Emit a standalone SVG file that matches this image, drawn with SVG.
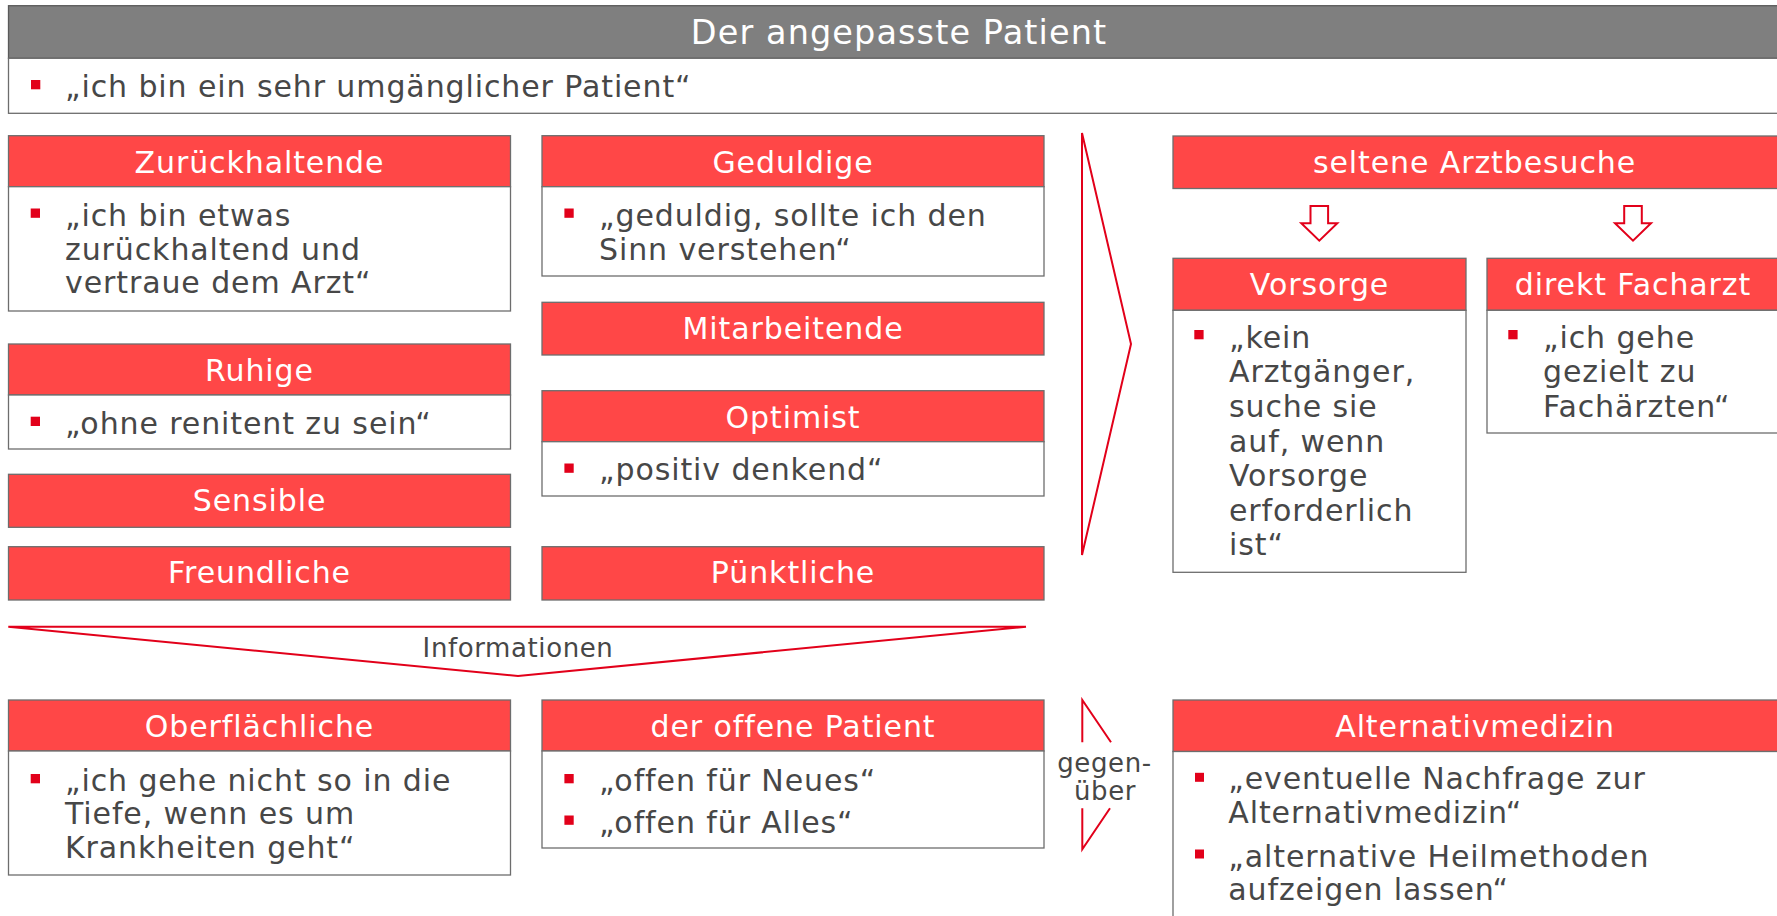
<svg xmlns="http://www.w3.org/2000/svg" width="1777" height="916" viewBox="0 0 1777 916">
<style>
.hdr{fill:#FF4747;stroke:#6d6d6d;stroke-width:1.3}
.bdy{fill:#ffffff;stroke:#6d6d6d;stroke-width:1.3}
.ht{font-family:"DejaVu Sans",sans-serif;font-size:30px;fill:#ffffff;text-anchor:middle;letter-spacing:0.9px}
.bt{font-family:"DejaVu Sans",sans-serif;font-size:30px;fill:#474747;letter-spacing:0.9px}
.sm{font-family:"DejaVu Sans",sans-serif;font-size:26px;fill:#474747;text-anchor:middle;letter-spacing:0.6px}
.bul{fill:#E2001A}
.red{fill:none;stroke:#E2001A;stroke-width:2;stroke-linejoin:miter}
</style>

<g id="title">
<rect x="8.5" y="5.7" width="1790" height="52.6" fill="#7F7F7F" stroke="#5a5a5a" stroke-width="1.3"/>
<text x="899" y="44" font-family="DejaVu Sans,sans-serif" font-size="33.5" fill="#ffffff" text-anchor="middle" letter-spacing="1.1">Der angepasste Patient</text>
<rect class="bdy" x="8.5" y="58.3" width="1790" height="55"/>
<rect class="bul" x="31" y="80" width="9.3" height="9.3"/>
<text class="bt" x="65" y="97">„ich bin ein sehr umgänglicher Patient“</text>
</g>

<g id="zurueckhaltende">
<rect class="hdr" x="8.5" y="135.7" width="502" height="51"/>
<text class="ht" x="259.5" y="172.7">Zurückhaltende</text>
<rect class="bdy" x="8.5" y="186.7" width="502" height="124.3"/>
<rect class="bul" x="30.7" y="208.5" width="9.3" height="9.3"/>
<text class="bt" x="65" y="226">„ich bin etwas</text>
<text class="bt" x="65" y="259.5">zurückhaltend und</text>
<text class="bt" x="65" y="293">vertraue dem Arzt“</text>
</g>

<g id="ruhige">
<rect class="hdr" x="8.5" y="344" width="502" height="51"/>
<text class="ht" x="259.5" y="381">Ruhige</text>
<rect class="bdy" x="8.5" y="395" width="502" height="54"/>
<rect class="bul" x="30.7" y="416.7" width="9.3" height="9.3"/>
<text class="bt" x="65" y="433.5">„ohne renitent zu sein“</text>
</g>

<g id="sensible">
<rect class="hdr" x="8.5" y="474.3" width="502" height="53"/>
<text class="ht" x="259.5" y="511">Sensible</text>
</g>

<g id="freundliche">
<rect class="hdr" x="8.5" y="546.7" width="502" height="53.3"/>
<text class="ht" x="259.5" y="583.3">Freundliche</text>
</g>

<g id="geduldige">
<rect class="hdr" x="542" y="135.7" width="502" height="51"/>
<text class="ht" x="793" y="172.7">Geduldige</text>
<rect class="bdy" x="542" y="186.7" width="502" height="89.3"/>
<rect class="bul" x="564.4" y="208.5" width="9.3" height="9.3"/>
<text class="bt" x="599" y="226">„geduldig, sollte ich den</text>
<text class="bt" x="599" y="259.5">Sinn verstehen“</text>
</g>

<g id="mitarbeitende">
<rect class="hdr" x="542" y="302.3" width="502" height="52.7"/>
<text class="ht" x="793" y="339.3">Mitarbeitende</text>
</g>

<g id="optimist">
<rect class="hdr" x="542" y="390.7" width="502" height="51"/>
<text class="ht" x="793" y="427.7">Optimist</text>
<rect class="bdy" x="542" y="441.7" width="502" height="54.3"/>
<rect class="bul" x="564.4" y="463.5" width="9.3" height="9.3"/>
<text class="bt" x="599" y="479.7">„positiv denkend“</text>
</g>

<g id="puenktliche">
<rect class="hdr" x="542" y="546.7" width="502" height="53.3"/>
<text class="ht" x="793" y="583.3">Pünktliche</text>
</g>

<g id="seltene">
<rect class="hdr" x="1173" y="136" width="610" height="52.5"/>
<text class="ht" x="1474.5" y="173">seltene Arztbesuche</text>
</g>

<g id="vorsorge">
<rect class="hdr" x="1173" y="258.3" width="293" height="52"/>
<text class="ht" x="1319.5" y="295.3">Vorsorge</text>
<rect class="bdy" x="1173" y="310.3" width="293" height="262"/>
<rect class="bul" x="1194.3" y="330" width="9.3" height="9.3"/>
<text class="bt" x="1229" y="347.7">„kein</text>
<text class="bt" x="1229" y="382.3">Arztgänger,</text>
<text class="bt" x="1229" y="416.9">suche sie</text>
<text class="bt" x="1229" y="451.5">auf, wenn</text>
<text class="bt" x="1229" y="486.1">Vorsorge</text>
<text class="bt" x="1229" y="520.7">erforderlich</text>
<text class="bt" x="1229" y="555.3">ist“</text>
</g>

<g id="facharzt">
<rect class="hdr" x="1487" y="258.3" width="300" height="52"/>
<text class="ht" x="1633" y="295.3">direkt Facharzt</text>
<rect class="bdy" x="1487" y="310.3" width="300" height="122.7"/>
<rect class="bul" x="1508.3" y="330" width="9.3" height="9.3"/>
<text class="bt" x="1543" y="347.7">„ich gehe</text>
<text class="bt" x="1543" y="382.3">gezielt zu</text>
<text class="bt" x="1543" y="416.9">Fachärzten“</text>
</g>

<g id="oberflaechliche">
<rect class="hdr" x="8.5" y="700" width="502" height="51"/>
<text class="ht" x="259.5" y="737">Oberflächliche</text>
<rect class="bdy" x="8.5" y="751" width="502" height="124"/>
<rect class="bul" x="30.7" y="774" width="9.3" height="9.3"/>
<text class="bt" x="65" y="790.5">„ich gehe nicht so in die</text>
<text class="bt" x="65" y="824">Tiefe, wenn es um</text>
<text class="bt" x="65" y="857.5">Krankheiten geht“</text>
</g>

<g id="offene">
<rect class="hdr" x="542" y="700" width="502" height="51"/>
<text class="ht" x="793" y="737">der offene Patient</text>
<rect class="bdy" x="542" y="751" width="502" height="97"/>
<rect class="bul" x="564.4" y="774" width="9.3" height="9.3"/>
<text class="bt" x="599" y="790.5">„offen für Neues“</text>
<rect class="bul" x="564.4" y="815.5" width="9.3" height="9.3"/>
<text class="bt" x="599" y="832.5">„offen für Alles“</text>
</g>

<g id="alternativ">
<rect class="hdr" x="1173" y="700" width="610" height="51.5"/>
<text class="ht" x="1475" y="737">Alternativmedizin</text>
<rect class="bdy" x="1173" y="751.5" width="610" height="200"/>
<rect class="bul" x="1195" y="772.8" width="9" height="9"/>
<text class="bt" x="1228.3" y="789.3">„eventuelle Nachfrage zur</text>
<text class="bt" x="1228.3" y="823.3">Alternativmedizin“</text>
<rect class="bul" x="1195" y="849.5" width="9" height="9"/>
<text class="bt" x="1228.3" y="866.7">„alternative Heilmethoden</text>
<text class="bt" x="1228.3" y="900">aufzeigen lassen“</text>
</g>

<g id="connectors">
<polygon class="red" points="1082,133 1131,344 1082,555"/>
<path class="red" d="M1310.5,206 H1328.1 V223.3 H1337.3 L1319.3,240.7 L1301.3,223.3 H1310.5 Z"/>
<path class="red" d="M1624.2,206 H1641.8 V223.3 H1651 L1633,240.7 L1615,223.3 H1624.2 Z"/>
<polygon class="red" points="8.3,626.7 1026,626.7 518,676"/>
<text class="sm" x="518" y="656.7">Informationen</text>
<polyline class="red" points="1111,742.3 1082.3,700 1082.3,742.3"/>
<polyline class="red" points="1082.3,808.3 1082.3,849.3 1110,808.3"/>
<text class="sm" x="1104.5" y="771.7">gegen-</text>
<text class="sm" x="1105" y="800">über</text>
</g>
</svg>
